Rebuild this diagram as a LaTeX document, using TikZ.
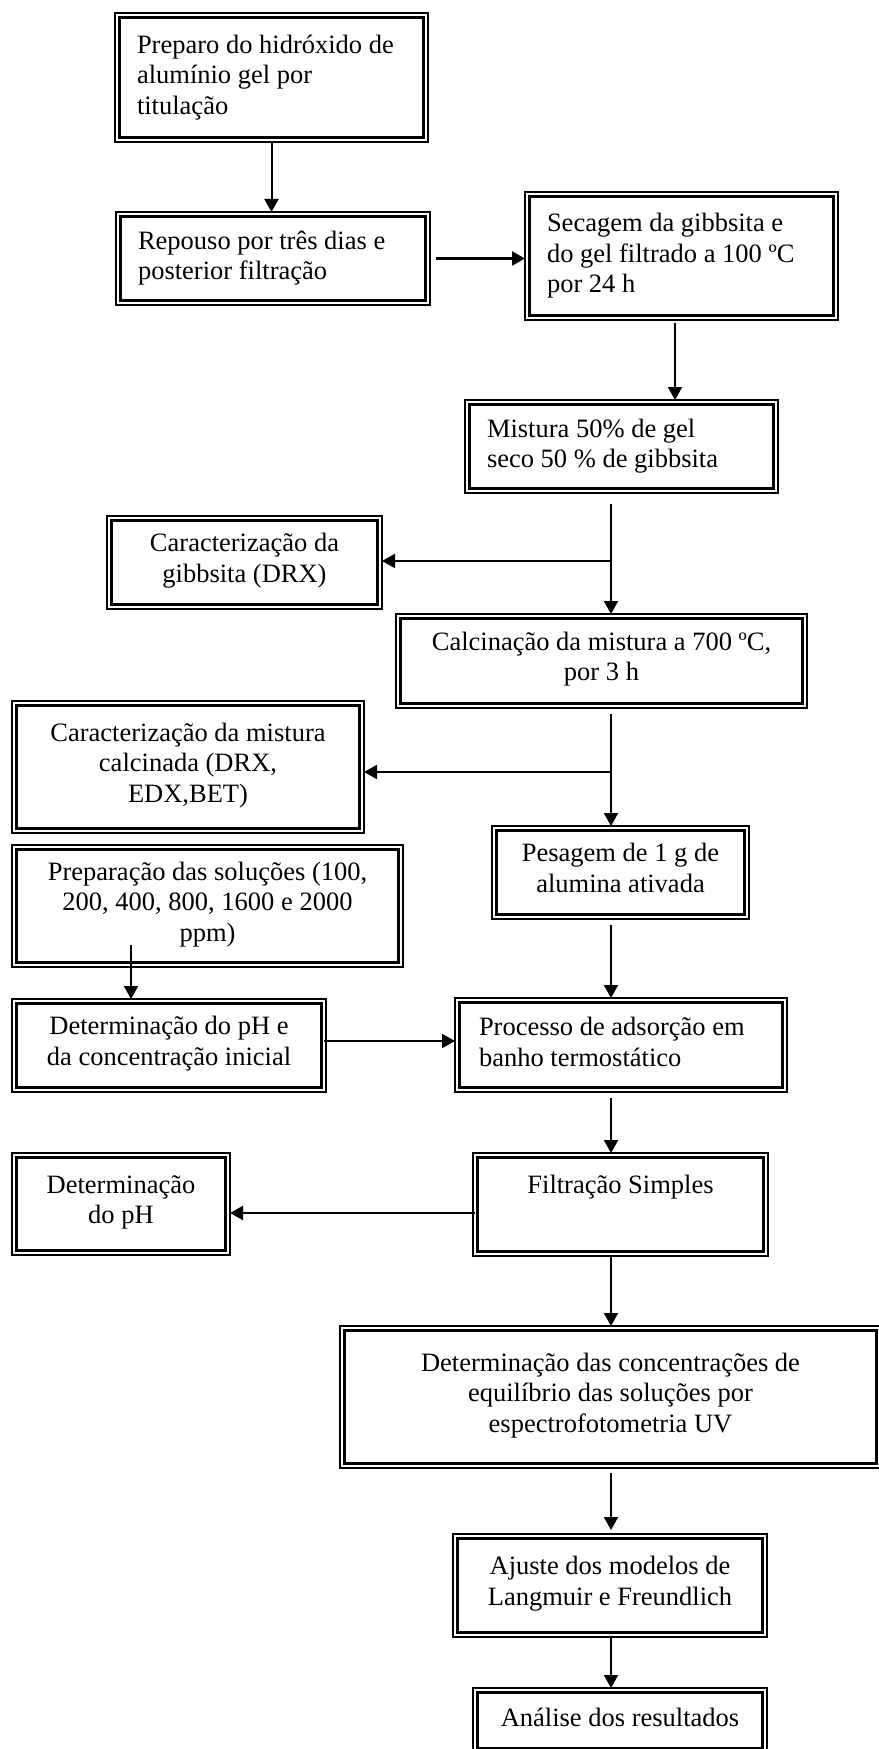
\documentclass[tikz,border=0pt]{standalone}
\usepackage{fontspec}
\setmainfont{Liberation Serif}
\usetikzlibrary{arrows.meta,calc}

\tikzset{
  stage/.style={draw, line width=.75pt, inner sep=0pt, outer sep=0pt,
    font=\fontsize{13.25}{15.25}\selectfont,
    execute at begin node=\strut, execute at end node=\strut,
    path picture={\draw[line width=1.5pt]
      ([shift={(2.1pt,-2.1pt)}]path picture bounding box.north west) rectangle
      ([shift={(-2.1pt,2.1pt)}]path picture bounding box.south east);}},
  cbox/.style 2 args={stage, align=center, minimum width=#1, minimum height=#2},
  lbox/.style n args={3}{stage, align=flush left, minimum width=#1, minimum height=#2, text width=#3},
  arr/.style={-{Triangle[length=6.5pt,width=7pt]}, line width=1pt}
}

\begin{document}
\begin{tikzpicture}[x=.5pt,y=-.5pt]
    \useasboundingbox (0,0) rectangle (878,1749);

    \node[lbox={156.5pt}{64.5pt}{134.5pt}] (prep) at (271.5,77.5)
        {Preparo do hidróxido de\\alumínio gel por\\titulação};
    \node[lbox={157pt}{46.5pt}{135pt}] (repouso) at (273,258.5)
        {Repouso por três dias e\\posterior filtração};
    \node[lbox={156.5pt}{64pt}{134.5pt}] (secagem) at (681.5,256)
        {Secagem da gibbsita e\\do gel filtrado a 100 ºC\\por 24 h};
    \node[lbox={156.5pt}{46.5pt}{134.5pt}] (mistura) at (621.5,446.5)
        {Mistura 50\% de gel\\seco 50 \% de gibbsita};
    \node[cbox={137.5pt}{46.5pt}] (caracgib) at (244.5,562.5)
        {Caracterização da\\gibbsita (DRX)};
    \node[cbox={205.5pt}{47pt}] (calcina) at (601.5,661)
        {Calcinação da mistura a 700 ºC,\\por 3 h};
    \node[cbox={176pt}{66pt}] (caracmist) at (188,767)
        {Caracterização da mistura\\calcinada (DRX,\\EDX,BET)};
    \node[cbox={128.5pt}{46.5pt}] (pesagem) at (620.5,872.5)
        {Pesagem de 1 g de\\alumina ativada};
    \node[cbox={195.5pt}{61pt}] (solucoes) at (207.5,906)
        {Preparação das soluções (100,\\200, 400, 800, 1600 e 2000\\ppm)};
    \node[cbox={157pt}{46.5pt}] (detinicial) at (169,1045.5)
        {Determinação do pH e\\da concentração inicial};
    \node[lbox={166pt}{47pt}{142pt}] (adsorcao) at (621,1045)
        {Processo de adsorção em\\banho termostático};
    \node[cbox={147.5pt}{51.5pt}] (filtracao) at (620.5,1204.5)
        {Filtração Simples\\\mbox{}};
    \node[cbox={109pt}{51pt}] (detph) at (121,1204)
        {Determinação\\do pH};
    \node[cbox={270.5pt}{71pt}] (detequil) at (610.5,1397)
        {Determinação das concentrações de\\equilíbrio das soluções por\\espectrofotometria UV};
    \node[cbox={157pt}{51.5pt}] (ajuste) at (610,1585.5)
        {Ajuste dos modelos de\\Langmuir e Freundlich};
    \node[cbox={147pt}{32.5pt}] (analise) at (620,1720.5)
        {Análise dos resultados};

    \coordinate (spine) at (611,0);
    \coordinate (j1) at (611,561);
    \coordinate (j2) at (611,772);
    \coordinate (ps) at (131,945);
    \coordinate (j3) at ($(detinicial.east)+(-2,-4.5)$);
    \coordinate (j4) at ($(filtracao.west)+(2,8.5)$);

    \draw[arr] (prep.south) -- (prep.south |- repouso.north);
    \draw[arr, line width=1.3pt] ([xshift=3pt]repouso.east) -- (repouso.east -| secagem.west);
    \draw[arr] ($(secagem.south)+(-6.5,3)$) -- ($(secagem.south |- mistura.north)+(-6.5,0)$);
    \draw[arr] ($(mistura.south -| spine)+(0,11)$) -- (calcina.north -| spine);
    \draw[arr] (j1) -- (j1 -| caracgib.east);
    \draw[arr] ($(calcina.south -| spine)+(0,6)$) -- (pesagem.north -| spine);
    \draw[arr] (j2) -- (j2 -| caracmist.east);
    \draw[arr] ($(pesagem.south -| spine)+(0,6)$) -- (adsorcao.north -| spine);
    \draw[arr] (ps) -- (ps |- detinicial.north);
    \draw[arr] (j3) -- (j3 -| adsorcao.west);
    \draw[arr] ($(adsorcao.south -| spine)+(0,6)$) -- (filtracao.north -| spine);
    \draw[arr] (j4) -- (j4 -| detph.east);
    \draw[arr] (filtracao.south -| spine) -- (detequil.north -| spine);
    \draw[arr] ($(detequil.south -| spine)+(0,5)$) -- ($(ajuste.north -| spine)+(0,-4)$);
    \draw[arr] (ajuste.south -| spine) -- (analise.north -| spine);
\end{tikzpicture}
\end{document}
